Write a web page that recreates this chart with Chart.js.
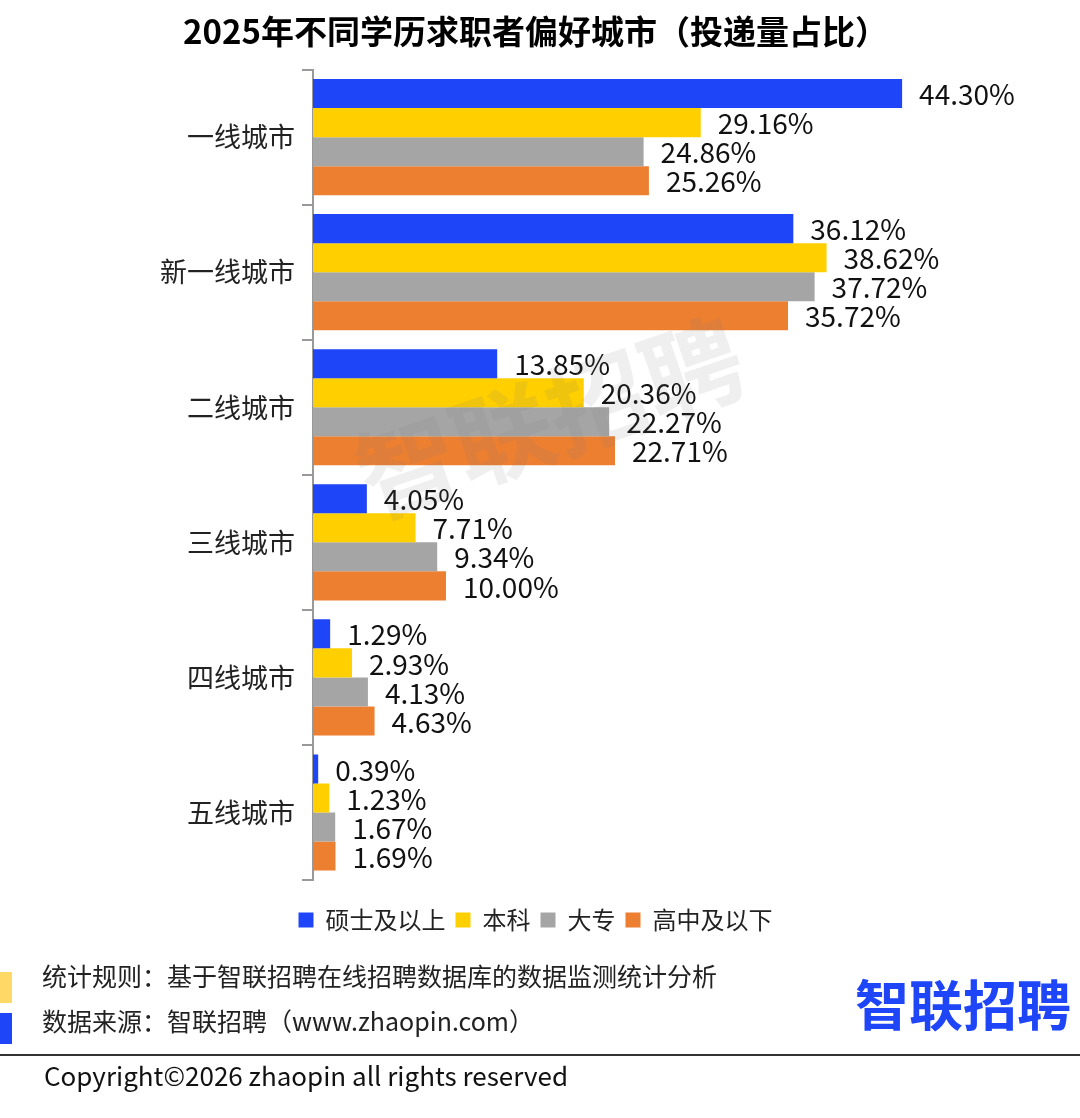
<!DOCTYPE html>
<html>
<head>
<meta charset="utf-8">
<script src="https://cdn.jsdelivr.net/npm/chart.js@4"></script>
<style>
  html, body { margin: 0; padding: 0; background: #fff; }
  #wrap { width: 1080px; height: 1118px; }
</style>
</head>
<body>
<div id="wrap"><canvas id="cityChart" width="1080" height="1118"></canvas></div>
<script>
const cities = ["一线城市", "新一线城市", "二线城市", "三线城市", "四线城市", "五线城市"];
const seriesNames = ["硕士及以上", "本科", "大专", "高中及以下"];
const master = [44.30, 36.12, 13.85, 4.05, 1.29, 0.39];
const bachelor = [29.16, 38.62, 20.36, 7.71, 2.93, 1.23];
const college = [24.86, 37.72, 22.27, 9.34, 4.13, 1.67];
const highSchool = [25.26, 35.72, 22.71, 10.00, 4.63, 1.69];
const colors = ["#1E45F8", "#FFCF00", "#A5A5A5", "#ED7F31"];

const CJK = '"Noto Sans CJK SC", "Noto Sans", sans-serif';

// percent labels at the end of every bar
const valueLabels = {
  id: "valueLabels",
  afterDatasetsDraw(chart) {
    const ctx = chart.ctx;
    ctx.save();
    ctx.font = "28px " + CJK;
    ctx.fillStyle = "#111";
    ctx.textAlign = "left";
    ctx.textBaseline = "middle";
    chart.data.datasets.forEach((ds, i) => {
      chart.getDatasetMeta(i).data.forEach((bar, j) => {
        ctx.fillText(ds.data[j].toFixed(2) + "%", bar.x + 17, bar.y + 1);
      });
    });
    ctx.restore();
  }
};

// watermark, notes, logo and copyright line
const pageExtras = {
  id: "pageExtras",
  afterDraw(chart) {
    const ctx = chart.ctx;
    ctx.save();

    // watermark
    ctx.save();
    ctx.translate(550, 418);
    ctx.rotate(-19 * Math.PI / 180);
    ctx.font = "bold 100px " + CJK;
    ctx.fillStyle = "rgba(120,120,120,0.12)";
    ctx.textAlign = "center";
    ctx.textBaseline = "middle";
    ctx.fillText("智联招聘", 0, 0);
    ctx.restore();

    // notes
    ctx.fillStyle = "#FFD966";
    ctx.fillRect(0, 972, 12, 31);
    ctx.fillStyle = "#1E45F8";
    ctx.fillRect(0, 1013, 12, 31);

    ctx.fillStyle = "#222";
    ctx.font = "25px " + CJK;
    ctx.textAlign = "left";
    ctx.textBaseline = "middle";
    ctx.fillText("统计规则：基于智联招聘在线招聘数据库的数据监测统计分析", 42, 976);
    ctx.fillText("数据来源：智联招聘（www.zhaopin.com）", 42, 1021);

    // logo
    ctx.fillStyle = "#1E45F8";
    ctx.font = "bold 54px " + CJK;
    ctx.fillText("智联招聘", 855, 1005);

    // rule + copyright
    ctx.strokeStyle = "#333";
    ctx.lineWidth = 2;
    ctx.beginPath();
    ctx.moveTo(0, 1055);
    ctx.lineTo(1080, 1055);
    ctx.stroke();

    ctx.fillStyle = "#111";
    ctx.font = "26px " + CJK;
    ctx.fillText("Copyright©2026 zhaopin all rights reserved", 44, 1076);

    ctx.restore();
  }
};

const ctx = document.getElementById("cityChart").getContext("2d");

const cityChart = new Chart(ctx, {
  type: "bar",
  data: {
    labels: cities,
    datasets: [
      { label: seriesNames[0], data: master, backgroundColor: colors[0] },
      { label: seriesNames[1], data: bachelor, backgroundColor: colors[1] },
      { label: seriesNames[2], data: college, backgroundColor: colors[2] },
      { label: seriesNames[3], data: highSchool, backgroundColor: colors[3] }
    ]
  },
  options: {
    indexAxis: "y",
    responsive: false,
    animation: false,
    devicePixelRatio: 1,
    datasets: {
      bar: { categoryPercentage: 0.86, barPercentage: 1.0, borderWidth: 0 }
    },
    layout: {
      padding: { left: 0, right: 9, top: 0, bottom: 176 }
    },
    scales: {
      x: {
        display: false,
        min: 0,
        max: 57
      },
      y: {
        afterFit: function (scale) {
          scale.width = 313;
        },
        border: { display: true, color: "#999", width: 2 },
        grid: {
          drawOnChartArea: false,
          drawTicks: true,
          tickLength: 11,
          color: "#999",
          lineWidth: 2
        },
        ticks: {
          padding: 7,
          color: "#222",
          font: { family: CJK, size: 27 }
        }
      }
    },
    plugins: {
      title: {
        display: true,
        text: "2025年不同学历求职者偏好城市（投递量占比）",
        color: "#000",
        font: { family: CJK, size: 33, weight: "bold" },
        padding: { top: 12, bottom: 18 }
      },
      legend: {
        position: "bottom",
        title: {
          display: true,
          text: " ",
          font: { size: 10 },
          padding: { top: 3, bottom: 3 }
        },
        labels: {
          boxWidth: 15,
          boxHeight: 15,
          padding: 10,
          color: "#222",
          font: { family: CJK, size: 24 }
        }
      },
      tooltip: { enabled: false }
    }
  },
  plugins: [valueLabels, pageExtras]
});
</script>
</body>
</html>
